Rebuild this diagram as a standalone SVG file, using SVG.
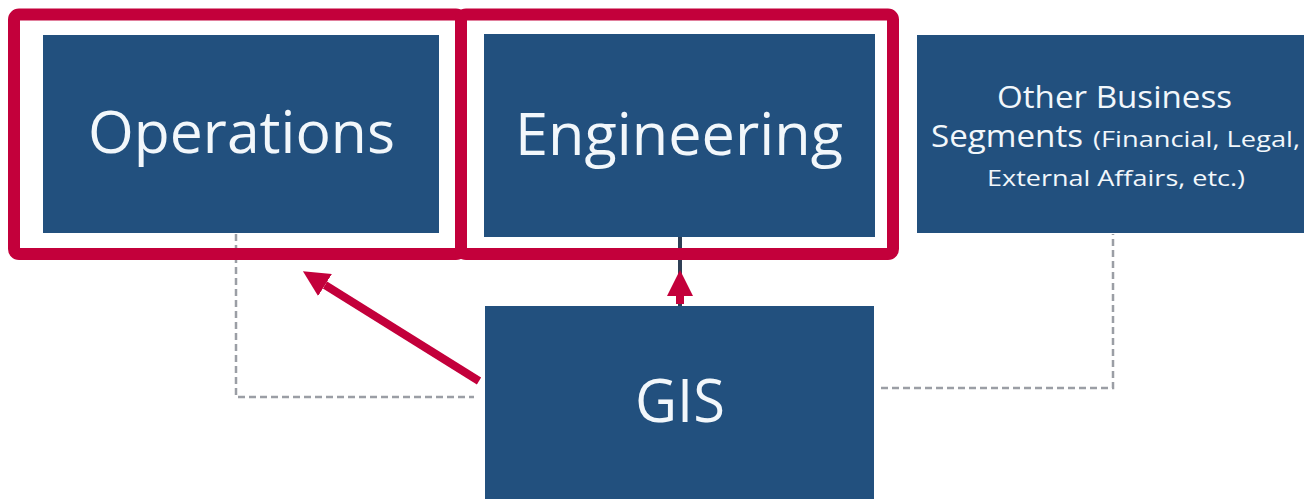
<svg xmlns="http://www.w3.org/2000/svg" width="1304" height="499" viewBox="0 0 1304 499">
<defs>
<style>
.box{fill:#22507e;}
.lbl{font-family:"Open Sans","Noto Sans","Liberation Sans",sans-serif;fill:#f2f7fb;text-anchor:middle;}
.big{font-size:58px;}
.mid{font-size:31px;}
.sml{font-size:22px;}
.hl{fill:none;stroke:#c3003b;stroke-width:12;}
.dash{fill:none;stroke:#9b9ea5;stroke-width:2.5;stroke-dasharray:7 4;}
.red{fill:none;stroke:#c3003b;stroke-width:8;}
</style>
<marker id="ah" markerUnits="userSpaceOnUse" viewBox="0 0 26 26" refX="0" refY="13" markerWidth="26" markerHeight="26" orient="auto">
<path d="M0,0 L26,13 L0,26 z" fill="#c3003b"/>
</marker>
</defs>
<g id="connectors">
<path class="dash" d="M236,234 V397 H474"/>
<path class="dash" d="M881,388 H1113 V234"/>
<line x1="680" y1="237" x2="680" y2="306" stroke="#2f3f55" stroke-width="4"/>
<line class="red" x1="680" y1="304" x2="680" y2="296" marker-end="url(#ah)"/>
<line class="red" x1="479" y1="381" x2="325" y2="285" marker-end="url(#ah)"/>
</g>
<g id="operations">
<rect class="box" x="43" y="35" width="396" height="198"/>
<text class="lbl big" x="241.5" y="153" textLength="307" lengthAdjust="spacingAndGlyphs">Operations</text>
</g>
<g id="engineering">
<rect class="box" x="484" y="34" width="391" height="203"/>
<text class="lbl big" x="679" y="155" textLength="328" lengthAdjust="spacingAndGlyphs">Engineering</text>
</g>
<g id="other">
<rect class="box" x="917" y="35" width="400" height="198"/>
<text class="lbl mid" x="1114.5" y="108" textLength="235" lengthAdjust="spacingAndGlyphs">Other Business</text>
<text class="lbl" y="147" style="text-anchor:start"><tspan class="mid" x="931" textLength="152" lengthAdjust="spacingAndGlyphs">Segments</tspan><tspan class="sml" x="1093" textLength="207" lengthAdjust="spacingAndGlyphs">(Financial, Legal,</tspan></text>
<text class="lbl sml" x="1116" y="186" textLength="258" lengthAdjust="spacingAndGlyphs">External Affairs, etc.)</text>
</g>
<g id="gis">
<rect class="box" x="485" y="306" width="389" height="200"/>
<text class="lbl" x="680" y="422" font-size="60" textLength="90" lengthAdjust="spacingAndGlyphs">GIS</text>
</g>
<g id="highlights">
<rect class="hl" x="14" y="14.5" width="447" height="239.5" rx="5"/>
<rect class="hl" x="461" y="14.5" width="432" height="239.5" rx="5"/>
</g>
</svg>
